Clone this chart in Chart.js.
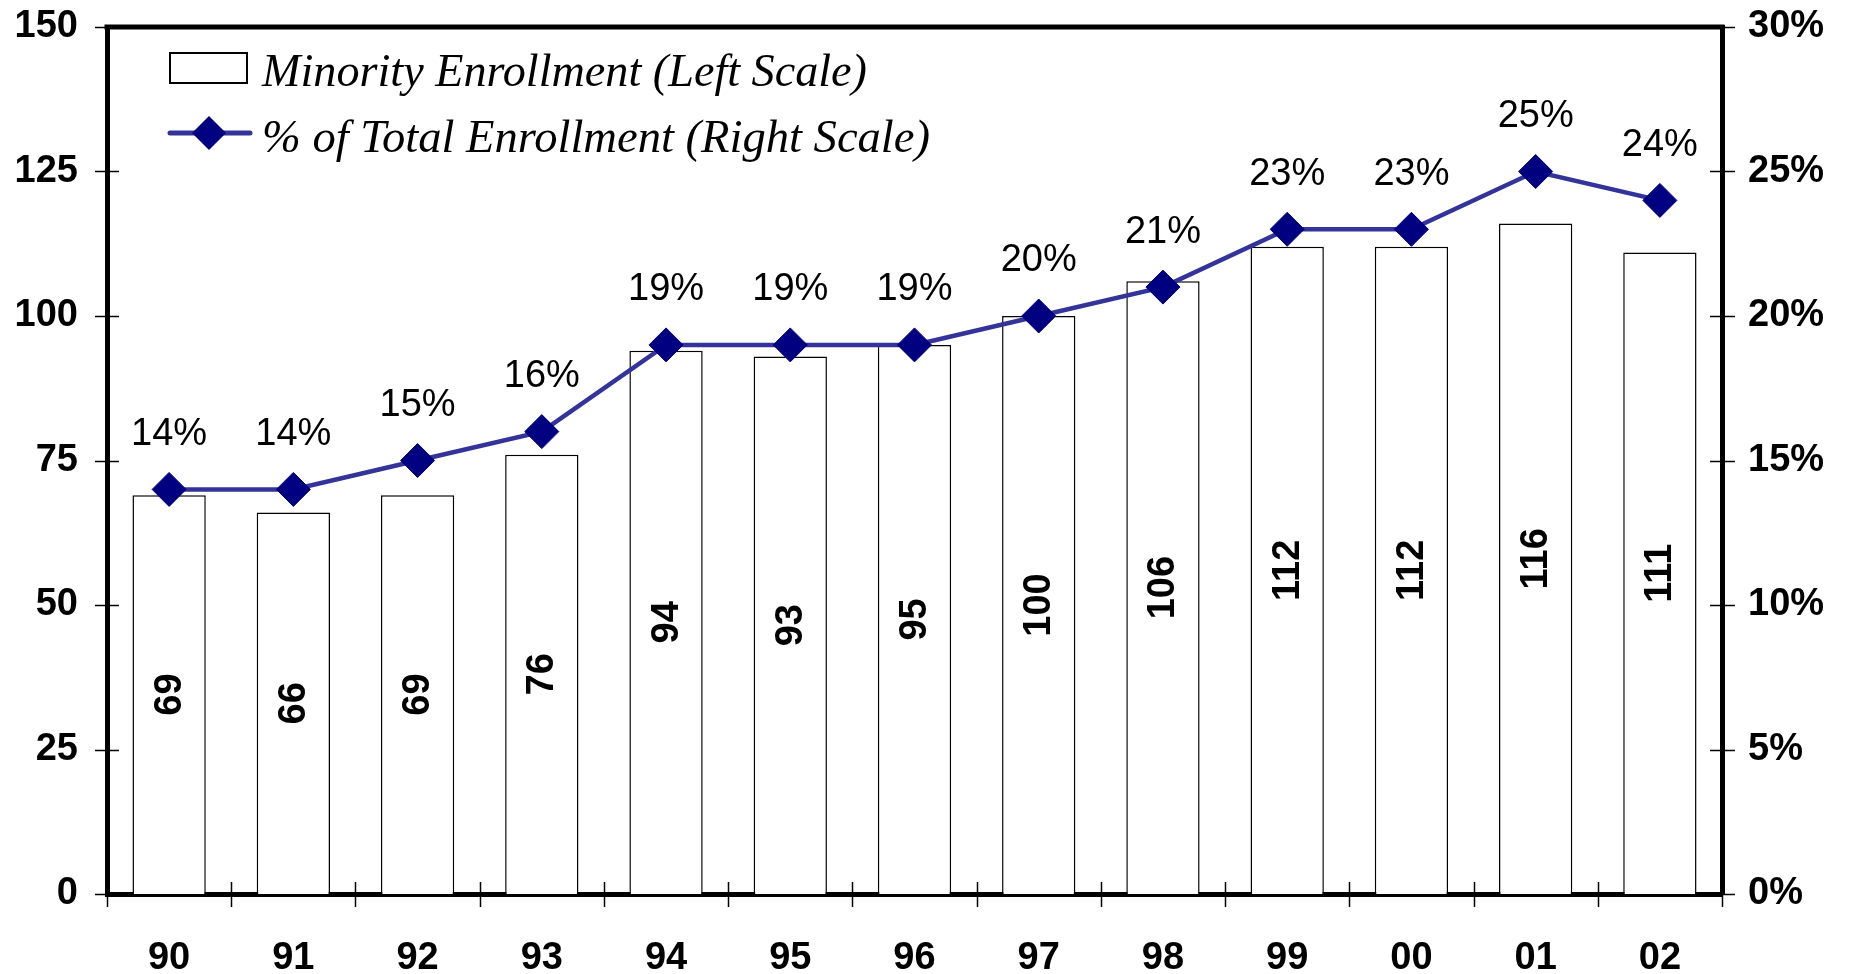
<!DOCTYPE html>
<html><head><meta charset="utf-8">
<script src="https://cdn.jsdelivr.net/npm/chart.js@4/dist/chart.umd.min.js"></script>
<style>html,body{margin:0;padding:0;background:#fff}#wrap{width:1849px;height:974px;position:relative}</style>
</head><body><div id="wrap"><canvas id="c" width="1849" height="974" style="width:1849px;height:974px"></canvas></div>
<script>
const years = ['90','91','92','93','94','95','96','97','98','99','00','01','02'];
const enrollment = [69,66,69,76,94,93,95,100,106,112,112,116,111];
const pctTotal = [14,14,15,16,19,19,19,20,21,23,23,25,24];
const leftTicks = [0,25,50,75,100,125,150];
const rightTicks = [0,5,10,15,20,25,30];
const seriesNames = ['Minority Enrollment (Left Scale)', '% of Total Enrollment (Right Scale)'];

const SANS = '"Liberation Sans", Arial, sans-serif';
const SERIF = '"Liberation Serif", "Times New Roman", serif';

const decor = {
  id: 'decor',
  afterDatasetsDraw(chart) {
    const ctx = chart.ctx;
    ctx.save();
    ctx.fillStyle = '#000';
    ctx.textAlign = 'center';
    ctx.textBaseline = 'middle';
    ctx.font = 'bold 38px ' + SANS;
    chart.getDatasetMeta(1).data.forEach((bar, i) => {
      const cy = (bar.y + bar.base) / 2;
      ctx.save();
      ctx.translate(bar.x + 1, cy);
      ctx.rotate(-Math.PI / 2);
      ctx.fillText(String(enrollment[i]), 0, 0);
      ctx.restore();
    });
    ctx.font = '38px ' + SANS;
    chart.getDatasetMeta(0).data.forEach((pt, i) => {
      ctx.fillText(pctTotal[i] + '%', pt.x, pt.y - 55);
    });
    ctx.restore();
  },
  afterDraw(chart) {
    const ctx = chart.ctx, a = chart.chartArea;
    const x = chart.scales.x, y = chart.scales.y, y1 = chart.scales.y1;
    ctx.save();
    ctx.strokeStyle = '#000';
    ctx.lineWidth = 5;
    ctx.beginPath();
    ctx.moveTo(a.left - 2.5, a.top);
    ctx.lineTo(a.right + 2.5, a.top);
    ctx.stroke();
    ctx.lineWidth = 1.5;
    ctx.beginPath();
    leftTicks.forEach(v => { const p = Math.round(y.getPixelForValue(v)) + 0.5; ctx.moveTo(a.left - 12, p); ctx.lineTo(a.left + 12, p); });
    rightTicks.forEach(v => { const p = Math.round(y1.getPixelForValue(v)) + 0.5; ctx.moveTo(a.right - 12, p); ctx.lineTo(a.right + 13, p); });
    for (let i = 0; i <= years.length; i++) {
      const p = Math.round(x.getPixelForValue(i - 0.5)) + 0.5;
      ctx.moveTo(p, a.bottom - 12); ctx.lineTo(p, a.bottom + 13);
    }
    ctx.stroke();
    const barDs = chart.data.datasets[1], lineDs = chart.data.datasets[0];
    ctx.fillStyle = barDs.backgroundColor;
    ctx.fillRect(170, 53, 77, 30);
    ctx.strokeStyle = barDs.borderColor;
    ctx.lineWidth = 2;
    ctx.strokeRect(170, 53, 77, 30);
    ctx.strokeStyle = lineDs.borderColor;
    ctx.lineWidth = 5;
    ctx.lineCap = 'round';
    ctx.beginPath(); ctx.moveTo(170, 133); ctx.lineTo(250, 133); ctx.stroke();
    ctx.fillStyle = lineDs.pointBackgroundColor;
    ctx.beginPath();
    ctx.moveTo(209, 116); ctx.lineTo(226, 133); ctx.lineTo(209, 150); ctx.lineTo(192, 133); ctx.closePath(); ctx.fill();
    ctx.fillStyle = '#000';
    ctx.textAlign = 'left';
    ctx.textBaseline = 'alphabetic';
    ctx.font = 'italic 46px ' + SERIF;
    const drawFit = (txt, tx, ty, w) => {
      const m = ctx.measureText(txt).width;
      ctx.save(); ctx.translate(tx, ty); ctx.scale(w / m, 1); ctx.fillText(txt, 0, 0); ctx.restore();
    };
    drawFit(seriesNames[0], 262, 86, 605);
    drawFit(seriesNames[1], 262, 152, 668);
    ctx.restore();
  }
};

new Chart(document.getElementById('c'), {
  data: {
    labels: years,
    datasets: [
      {
        type: 'line', label: seriesNames[1], data: pctTotal, yAxisID: 'y1',
        borderColor: '#333399', borderWidth: 4.5, pointStyle: 'rectRot', pointRadius: 17,
        pointBackgroundColor: '#000080', pointBorderColor: '#000080', pointBorderWidth: 1,
        tension: 0, order: 0
      },
      {
        type: 'bar', label: seriesNames[0], data: enrollment, yAxisID: 'y',
        backgroundColor: '#ffffff', borderColor: '#000000', borderWidth: 1.5,
        barPercentage: 0.59, categoryPercentage: 1, order: 1
      }
    ]
  },
  options: {
    responsive: false, animation: false, devicePixelRatio: 1,
    layout: { padding: { top: 27, left: 0, right: 0, bottom: 0 } },
    plugins: { legend: { display: false }, tooltip: { enabled: false } },
    scales: {
      x: {
        type: 'category', offset: true,
        grid: { display: false, drawTicks: false },
        border: { display: true, color: '#000', width: 5 },
        ticks: { color: '#000', font: { family: SANS, size: 38, weight: 'bold' }, padding: 42, maxRotation: 0 },
        afterFit(s) { s.height = 80; s.paddingLeft = 0; s.paddingRight = 0; }
      },
      y: {
        position: 'left', min: 0, max: 150,
        afterBuildTicks(s) { s.ticks = leftTicks.map(v => ({ value: v })); },
        grid: { display: false, drawTicks: false },
        border: { display: true, color: '#000', width: 5 },
        ticks: { color: '#000', font: { family: SANS, size: 38, weight: 'bold' }, padding: 29 },
        afterFit(s) { s.width = 107; s.paddingTop = 0; s.paddingBottom = 0; }
      },
      y1: {
        position: 'right', min: 0, max: 30,
        afterBuildTicks(s) { s.ticks = rightTicks.map(v => ({ value: v })); },
        grid: { display: false, drawTicks: false },
        border: { display: true, color: '#000', width: 5 },
        ticks: { color: '#000', font: { family: SANS, size: 38, weight: 'bold' }, padding: 26, callback: v => v + '%' },
        afterFit(s) { s.width = 127; s.paddingTop = 0; s.paddingBottom = 0; }
      }
    }
  },
  plugins: [decor]
});
</script>
</body></html>
